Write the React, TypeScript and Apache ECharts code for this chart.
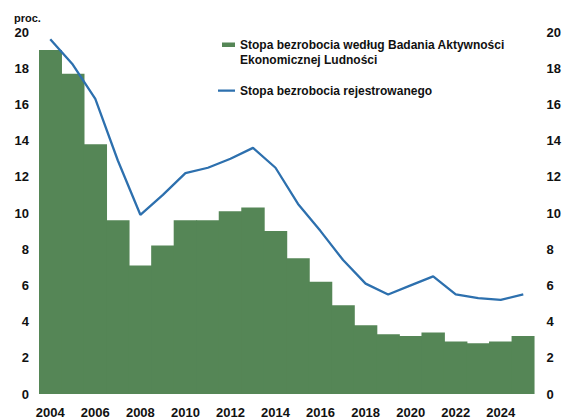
import React, { useEffect, useRef } from "react";
import * as echarts from "echarts";

const years = [
  "2004", "2005", "2006", "2007", "2008", "2009", "2010", "2011", "2012", "2013", "2014",
  "2015", "2016", "2017", "2018", "2019", "2020", "2021", "2022", "2023", "2024", "2025",
];
const baelRate = [
  19.0, 17.7, 13.8, 9.6, 7.1, 8.2, 9.6, 9.6, 10.1, 10.3, 9.0,
  7.5, 6.2, 4.9, 3.8, 3.3, 3.2, 3.4, 2.9, 2.8, 2.9, 3.2,
];
const registeredRate = [
  19.6, 18.2, 16.3, 12.9, 9.9, 11.0, 12.2, 12.5, 13.0, 13.6, 12.5,
  10.5, 9.0, 7.4, 6.1, 5.5, 6.0, 6.5, 5.5, 5.3, 5.2, 5.5,
];
const barName = "Stopa bezrobocia według Badania Aktywności Ekonomicznej Ludności";
const lineName = "Stopa bezrobocia rejestrowanego";
const unitLabel = "proc.";

const FONT = "'Liberation Sans', Arial, sans-serif";
const BAR_COLOR = "#558656";
const LINE_COLOR = "#2d70ae";

export default function App() {
  const ref = useRef<HTMLDivElement>(null);
  useEffect(() => {
    if (!ref.current) return;
    const chart = echarts.init(ref.current, undefined, { renderer: "svg" });
    const axisLabel = { fontFamily: FONT, fontSize: 13, fontWeight: "bold", color: "#111" };
    chart.setOption({
      animation: false,
      backgroundColor: "#fff",
      textStyle: { fontFamily: FONT },
      grid: { left: 39, right: 25, top: 32, bottom: 19.5, containLabel: false },
      legend: {
        orient: "vertical",
        left: 218,
        top: 37.5,
        itemWidth: 17,
        itemHeight: 30,
        itemGap: 8,
        padding: 0,
        selectedMode: false,
        textStyle: { fontFamily: FONT, fontSize: 12, fontWeight: "bold", color: "#111", lineHeight: 15 },
        formatter: (n: string) => (n === barName ? "Stopa bezrobocia według Badania Aktywności\nEkonomicznej Ludności" : n),
        data: [
          {
            name: barName,
            icon: "path://M0,0 L0.01,0 L0.01,0.01 Z M4,5 L17,5 L17,9.5 L4,9.5 Z M16.99,29.99 L17,29.99 L17,30 Z",
            itemStyle: { color: BAR_COLOR, borderWidth: 0 },
          },
          {
            name: lineName,
            icon: "path://M0,0 L0.01,0 L0.01,0.01 Z M0,14 L17,14 L17,16.2 L0,16.2 Z M16.99,29.99 L17,29.99 L17,30 Z",
            itemStyle: { color: LINE_COLOR, borderWidth: 0 },
          },
        ],
      },
      graphic: [
        {
          type: "text",
          left: 14,
          top: 12,
          style: { text: unitLabel, fontFamily: FONT, fontSize: 11, fontWeight: "bold", fill: "#111" },
        },
      ],
      xAxis: {
        type: "category",
        data: years,
        boundaryGap: true,
        axisLine: { show: false },
        axisTick: { show: false },
        axisLabel: { ...axisLabel, interval: 1, margin: 12 },
      },
      yAxis: [
        {
          type: "value",
          min: 0,
          max: 20,
          interval: 2,
          splitLine: { show: false },
          axisLine: { show: false },
          axisTick: { show: false },
          axisLabel: { ...axisLabel, margin: 10 },
        },
        {
          type: "value",
          min: 0,
          max: 20,
          interval: 2,
          position: "right",
          splitLine: { show: false },
          axisLine: { show: false },
          axisTick: { show: false },
          axisLabel: { ...axisLabel, margin: 12 },
        },
      ],
      series: [
        {
          name: barName,
          type: "bar",
          data: baelRate,
          barCategoryGap: "0%",
          barWidth: "104%",
          itemStyle: { color: BAR_COLOR },
        },
        {
          name: lineName,
          type: "line",
          data: registeredRate,
          symbol: "none",
          lineStyle: { color: LINE_COLOR, width: 2.3 },
          itemStyle: { color: LINE_COLOR },
          z: 3,
        },
      ],
    });
    return () => chart.dispose();
  }, []);
  return (
    <div style={{ width: 564, height: 419, position: "absolute", left: 0, top: 0, overflow: "hidden" }}>
      <div ref={ref} style={{ width: 564, height: 419 }} />
    </div>
  );
}
